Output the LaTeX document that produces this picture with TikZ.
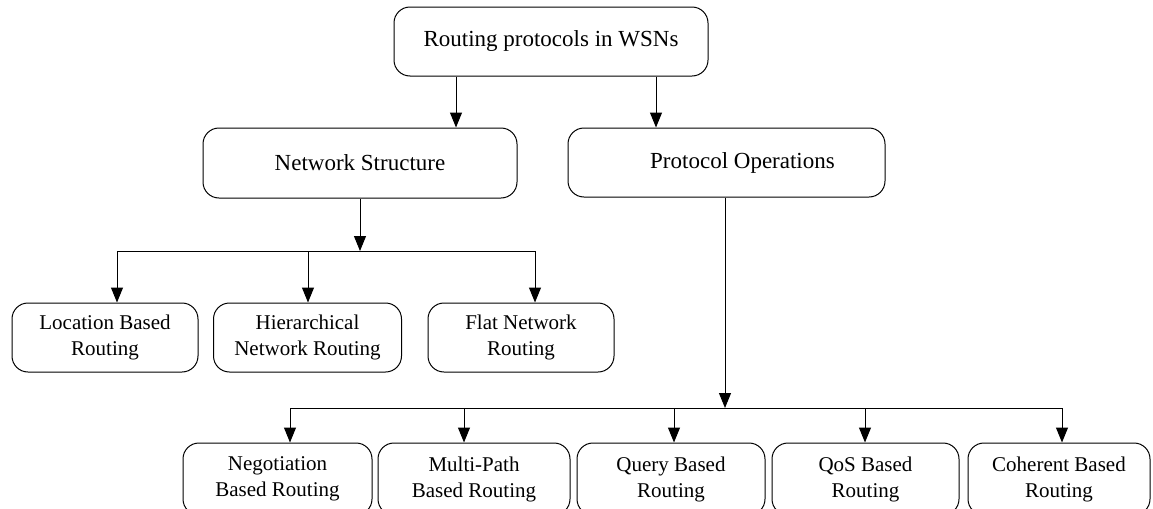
\documentclass[tikz,border=0pt]{standalone}
\usepackage{fontspec}
\setmainfont{Liberation Serif}
\usetikzlibrary{arrows.meta}
\begin{document}
\begin{tikzpicture}[x=0.5pt,y=-0.5pt,
  box/.style={draw, rounded corners=8pt, line width=0.5pt, inner sep=0pt,
              align=center, font=\fontsize{11.5}{14}\selectfont},
  leaf/.style={box, font=\fontsize{10.5}{13}\selectfont},
  link/.style={line width=0.5pt},
  arr/.style={link, -{Triangle[length=7.5pt,width=6pt]}}]
\useasboundingbox (0,0) rectangle (1153,509);
\clip (0,0) rectangle (1153,509);

% root and the two classes
\node[box, minimum width=157pt, minimum height=34.5pt] (root) at (551,41.5) {Routing protocols in WSNs};
\node[box, minimum width=157pt, minimum height=35pt] (ns) at (360,163) {Network Structure};
\node[box, minimum width=158.5pt, minimum height=34.5pt] (po) at (726.5,162.5) {\hspace*{16pt}Protocol Operations};

% network-structure leaves
\node[leaf, minimum width=93pt, minimum height=34.5pt] (loc) at (105,337.5) {Location Based\\Routing};
\node[leaf, minimum width=94pt, minimum height=34.5pt] (hier) at (307.5,337.5) {Hierarchical\\Network Routing};
\node[leaf, minimum width=93pt, minimum height=34.5pt] (flat) at (521,337.5) {Flat Network\\Routing};

% protocol-operation leaves (run past the lower edge)
\node[leaf, minimum width=94.5pt, minimum height=36pt] (neg) at (277.5,479) {Negotiation\\Based Routing};
\node[leaf, minimum width=96pt, minimum height=36pt] (mp) at (474,479) {Multi-Path\\Based Routing};
\node[leaf, minimum width=94pt, minimum height=36pt] (qry) at (671,479) {Query Based\\Routing};
\node[leaf, minimum width=93.5pt, minimum height=36pt] (qos) at (865.5,479) {QoS Based\\Routing};
\node[leaf, minimum width=91pt, minimum height=36pt] (coh) at (1059,479) {Coherent Based\\Routing};

% root to classes
\coordinate (r1) at (456,0);
\coordinate (r2) at (656,0);
\draw[arr] (r1 |- root.south) -- (r1 |- ns.north);
\draw[arr] (r2 |- root.south) -- (r2 |- po.north);

% network-structure fan-out
\coordinate (nj) at (360,251);
\coordinate (n1) at (117,251);
\coordinate (n2) at (308,251);
\coordinate (n3) at (535,251);
\draw[arr] (ns.south) -- (nj);
\draw[link] (n1) -- (n3);
\draw[arr] (n1) -- (n1 |- loc.north);
\draw[arr] (n2) -- (n2 |- hier.north);
\draw[arr] (n3) -- (n3 |- flat.north);

% protocol-operation fan-out
\coordinate (pj) at (725,408);
\coordinate (p1) at (290,408);
\coordinate (p2) at (464,408);
\coordinate (p3) at (674,408);
\coordinate (p4) at (865,408);
\coordinate (p5) at (1062,408);
\draw[arr] (pj |- po.south) -- (pj);
\draw[link] (p1) -- (p5);
\draw[arr] (p1) -- (p1 |- neg.north);
\draw[arr] (p2) -- (p2 |- mp.north);
\draw[arr] (p3) -- (p3 |- qry.north);
\draw[arr] (p4) -- (p4 |- qos.north);
\draw[arr] (p5) -- (p5 |- coh.north);
\end{tikzpicture}
\end{document}
